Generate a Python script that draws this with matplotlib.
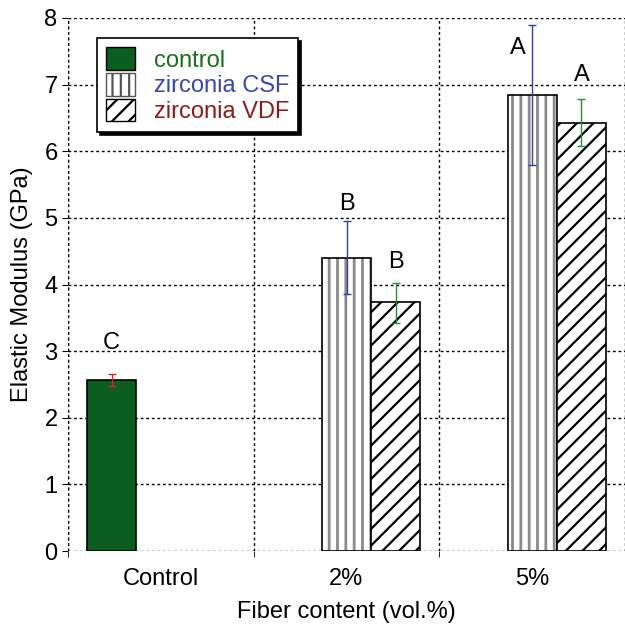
import numpy as np
import matplotlib.pyplot as plt
from matplotlib.patches import Patch

plt.rcParams['font.family'] = ['Liberation Sans', 'DejaVu Sans']

groups = ["Control", "2%", "5%"]
series = ["control", "zirconia CSF", "zirconia VDF"]
# value per group (nan where the series is absent)
control_val = [2.56, np.nan, np.nan]
control_lo = [2.47, np.nan, np.nan]
control_hi = [2.65, np.nan, np.nan]
csf_val = [np.nan, 4.40, 6.85]
csf_lo = [np.nan, 3.86, 5.79]
csf_hi = [np.nan, 4.95, 7.90]
vdf_val = [np.nan, 3.73, 6.43]
vdf_lo = [np.nan, 3.42, 6.08]
vdf_hi = [np.nan, 4.03, 6.78]
# significance letters and their heights
letters_control = ["C", "", ""]
letters_control_y = [3.12, np.nan, np.nan]
letters_csf = ["", "B", "A"]
letters_csf_y = [np.nan, 5.21, 7.55]
letters_vdf = ["", "B", "A"]
letters_vdf_y = [np.nan, 4.34, 7.15]

fig = plt.figure(figsize=(6.25, 6.26), dpi=100)
ax = fig.add_axes([68/625, 75/626, 557/625, 533/626])

x = np.arange(len(groups))
w = 0.265
green = "#0b5e1f"
fs = 17

def errs(v, lo, hi):
    v, lo, hi = np.array(v), np.array(lo), np.array(hi)
    return np.vstack([v - lo, hi - v])

# control
ax.bar(x - w, control_val, w, color=green, edgecolor="black", linewidth=1.2, zorder=3)
ax.errorbar(x - w, control_val, yerr=errs(control_val, control_lo, control_hi),
            fmt="none", ecolor="#e02020", elinewidth=1, capsize=3, zorder=4)
# CSF: gray vertical hatch, black outline on top
plt.rcParams['hatch.linewidth'] = 2.0
ax.bar(x, csf_val, w, color="white", edgecolor="#8a8a8a", hatch="||", linewidth=0, zorder=3)
ax.bar(x, csf_val, w, fill=False, edgecolor="black", linewidth=1.2, zorder=3)
ax.errorbar(x, csf_val, yerr=errs(csf_val, csf_lo, csf_hi),
            fmt="none", ecolor="#3040a0", elinewidth=1, capsize=3, zorder=4)
# VDF
plt.rcParams['hatch.linewidth'] = 1.6
ax.bar(x + w, vdf_val, w, color="white", edgecolor="black", hatch="//", linewidth=1.2, zorder=3)
ax.errorbar(x + w, vdf_val, yerr=errs(vdf_val, vdf_lo, vdf_hi),
            fmt="none", ecolor="#2a8a3a", elinewidth=1, capsize=3, zorder=4)

# significance letters
for i in range(len(groups)):
    if letters_control[i]:
        ax.text(x[i] - w, letters_control_y[i], letters_control[i], ha="center", va="center", fontsize=fs)
    if letters_csf[i]:
        dx = -0.075 if i == 2 else 0
        ax.text(x[i] + dx, letters_csf_y[i], letters_csf[i], ha="center", va="center", fontsize=fs)
    if letters_vdf[i]:
        ax.text(x[i] + w, letters_vdf_y[i], letters_vdf[i], ha="center", va="center", fontsize=fs)

ax.set_xlim(-0.5, 2.48)
ax.set_ylim(0, 8)
ax.set_yticks(range(0, 9))
ax.set_xticks(x)
ax.set_xticklabels(groups)
ax.set_xticks([-0.5, 0.5, 1.5, 2.5], minor=True)
ax.tick_params(axis="x", which="major", length=0, labelsize=fs, pad=12)
ax.tick_params(axis="x", which="minor", length=4, direction="out")
ax.tick_params(axis="y", labelsize=fs, length=4, direction="out")
for s in ax.spines.values():
    s.set_visible(False)
ax.grid(True, axis="y", linestyle=(0, (2, 2)), color="black", linewidth=1, zorder=0)
ax.grid(True, axis="x", which="minor", linestyle=(0, (2, 2)), color="black", linewidth=1, zorder=0)
ax.axvline(-0.5, linestyle=(0, (2, 2)), color="black", linewidth=1, zorder=0)
ax.set_axisbelow(True)

ax.set_xlabel("Fiber content (vol.%)", fontsize=fs, labelpad=8)
ax.set_ylabel("Elastic Modulus (GPa)", fontsize=fs, labelpad=8)

handles = [Patch(facecolor=green, edgecolor="black"),
           Patch(facecolor="white", edgecolor="#555555", hatch="||"),
           Patch(facecolor="white", edgecolor="black", hatch="//")]
leg = ax.legend(handles, series, loc="upper left", bbox_to_anchor=(29/557, 1 - 20/533),
                fontsize=fs, frameon=True, fancybox=False, shadow={"color": "black", "alpha": 1},
                edgecolor="black", handlelength=1.2, handleheight=1.1, borderpad=0.4,
                handletextpad=0.8, labelspacing=0.05, borderaxespad=0)
leg.get_frame().set_linewidth(1.2)
for t, c in zip(leg.get_texts(), ["#1a701a", "#3a48a8", "#8a1c1c"]):
    t.set_color(c)

fig.savefig("out.png", dpi=100)
